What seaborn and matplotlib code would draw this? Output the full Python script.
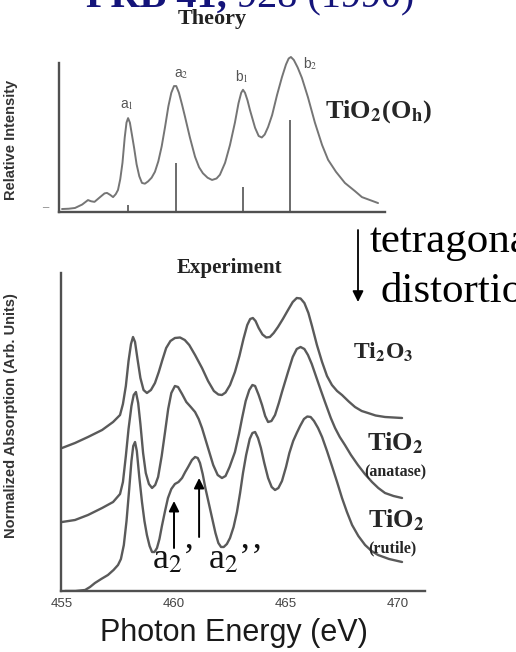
import numpy as np
import pandas as pd
import matplotlib
matplotlib.use("Agg")
import matplotlib.pyplot as plt
from matplotlib.ticker import MultipleLocator
import seaborn as sns

# ---------------- data ----------------
# Calculated Ti L-edge spectrum for octahedral TiO2 (relative intensity)
theory_energy = [455.00, 455.30, 455.58, 455.90, 456.16, 456.30, 456.45, 456.70,
                 456.90, 457.01, 457.15, 457.28, 457.40, 457.50, 457.60, 457.70,
                 457.80, 457.88, 457.95, 458.03, 458.12, 458.22, 458.33, 458.45,
                 458.57, 458.70, 458.84, 459.00, 459.15, 459.30, 459.45, 459.60,
                 459.75, 459.88, 460.00, 460.10, 460.22, 460.36, 460.49, 460.71,
                 460.94, 461.12, 461.29, 461.50, 461.70, 461.90, 462.05, 462.28,
                 462.50, 462.72, 462.88, 463.00, 463.08, 463.17, 463.28, 463.39,
                 463.62, 463.78, 463.92, 464.05, 464.20, 464.38, 464.60, 464.82,
                 465.00, 465.12, 465.22, 465.35, 465.52, 465.71, 465.98, 466.29,
                 466.61, 466.88, 467.23, 467.63, 468.08, 468.39, 468.75, 469.11]
theory_intensity = [0.020, 0.022, 0.027, 0.050, 0.080, 0.072, 0.068, 0.100,
                    0.125, 0.128, 0.115, 0.100, 0.120, 0.148, 0.220, 0.330,
                    0.500, 0.600, 0.630, 0.600, 0.520, 0.430, 0.320, 0.240,
                    0.195, 0.190, 0.205, 0.230, 0.270, 0.340, 0.440, 0.570,
                    0.710, 0.800, 0.845, 0.845, 0.800, 0.720, 0.640, 0.500,
                    0.370, 0.300, 0.260, 0.230, 0.215, 0.225, 0.250, 0.330,
                    0.450, 0.600, 0.730, 0.800, 0.820, 0.800, 0.750, 0.685,
                    0.565, 0.510, 0.500, 0.520, 0.570, 0.650, 0.785, 0.905,
                    0.990, 1.030, 1.040, 1.020, 0.970, 0.900, 0.770, 0.600,
                    0.450, 0.350, 0.270, 0.195, 0.140, 0.100, 0.080, 0.060]

# Multiplet line positions and strengths
stick_energy = [457.95, 460.09, 463.08, 465.18]
stick_height = [0.05, 0.33, 0.17, 0.62]
stick_labels = ["a$_1$", "a$_2$", "b$_1$", "b$_2$"]

# Measured spectra (normalized absorption, vertically offset)
ti2o3_energy = [455.00, 455.58, 456.16, 456.79, 457.28, 457.59, 457.72, 457.85,
                457.97, 458.08, 458.17, 458.26, 458.37, 458.50, 458.64, 458.79,
                458.97, 459.15, 459.32, 459.48, 459.65, 459.84, 460.04, 460.27,
                460.48, 460.68, 460.94, 461.25, 461.52, 461.78, 461.98, 462.14,
                462.30, 462.50, 462.72, 462.92, 463.10, 463.27, 463.40, 463.52,
                463.64, 463.78, 463.95, 464.12, 464.28, 464.45, 464.64, 464.86,
                465.09, 465.30, 465.48, 465.65, 465.82, 466.00, 466.16, 466.38,
                466.61, 466.83, 467.05, 467.28, 467.50, 467.80, 468.08, 468.38,
                468.66, 469.00, 469.42, 470.18]
ti2o3_abs = [1.43, 1.48, 1.54, 1.61, 1.69, 1.76, 1.87, 2.05,
             2.30, 2.47, 2.54, 2.49, 2.32, 2.13, 2.01, 1.98,
             2.01, 2.08, 2.19, 2.31, 2.43, 2.50, 2.53, 2.535,
             2.51, 2.46, 2.36, 2.23, 2.10, 2.00, 1.965, 1.96,
             1.985, 2.06, 2.19, 2.35, 2.52, 2.66, 2.72, 2.73,
             2.70, 2.63, 2.565, 2.535, 2.54, 2.58, 2.64, 2.72,
             2.81, 2.89, 2.93, 2.925, 2.88, 2.78, 2.65, 2.46,
             2.29, 2.15, 2.06, 2.00, 1.96, 1.895, 1.84, 1.80,
             1.78, 1.755, 1.74, 1.73]

anatase_energy = [455.00, 455.58, 456.16, 456.79, 457.28, 457.59, 457.72, 457.85,
                  457.97, 458.10, 458.20, 458.30, 458.40, 458.50, 458.62, 458.74,
                  458.88, 459.02, 459.16, 459.29, 459.45, 459.60, 459.74, 459.88,
                  460.04, 460.18, 460.36, 460.55, 460.75, 460.94, 461.10, 461.25,
                  461.52, 461.75, 461.95, 462.14, 462.30, 462.48, 462.72, 462.90,
                  463.04, 463.20, 463.36, 463.50, 463.62, 463.78, 463.93, 464.07,
                  464.20, 464.35, 464.51, 464.68, 464.82, 465.09, 465.30, 465.48,
                  465.65, 465.82, 465.98, 466.15, 466.35, 466.55, 466.74, 467.00,
                  467.19, 467.40, 467.63, 467.90, 468.21, 468.52, 468.84, 469.12,
                  469.42, 469.80, 470.18]
anatase_abs = [0.69, 0.71, 0.76, 0.83, 0.89, 0.97, 1.09, 1.35,
               1.62, 1.85, 1.96, 1.99, 1.88, 1.67, 1.38, 1.18,
               1.07, 1.03, 1.06, 1.14, 1.35, 1.59, 1.82, 1.98,
               2.05, 2.04, 1.97, 1.89, 1.84, 1.79, 1.72, 1.63,
               1.43, 1.26, 1.16, 1.13, 1.15, 1.24, 1.39, 1.57,
               1.73, 1.90, 2.01, 2.06, 2.05, 1.96, 1.86, 1.75,
               1.69, 1.70, 1.76, 1.88, 1.99, 2.19, 2.34, 2.42,
               2.44, 2.42, 2.36, 2.27, 2.14, 2.01, 1.89, 1.73,
               1.63, 1.54, 1.46, 1.36, 1.26, 1.17, 1.09, 1.03,
               0.98, 0.95, 0.93]

rutile_energy = [455.13, 455.60, 456.03, 456.25, 456.47, 456.75, 457.05, 457.30,
                 457.50, 457.63, 457.76, 457.88, 458.00, 458.10, 458.18, 458.26,
                 458.34, 458.45, 458.57, 458.68, 458.79, 458.91, 459.02, 459.13,
                 459.24, 459.35, 459.46, 459.60, 459.73, 459.88, 460.04, 460.20,
                 460.36, 460.50, 460.63, 460.80, 460.94, 461.06, 461.16, 461.28,
                 461.40, 461.55, 461.70, 461.85, 461.98, 462.10, 462.22, 462.36,
                 462.50, 462.66, 462.81, 462.95, 463.08, 463.22, 463.38, 463.50,
                 463.62, 463.75, 463.88, 464.03, 464.20, 464.36, 464.51, 464.66,
                 464.82, 465.00, 465.15, 465.32, 465.48, 465.63, 465.80, 465.95,
                 466.10, 466.25, 466.43, 466.61, 466.83, 467.05, 467.28, 467.50,
                 467.72, 467.95, 468.23, 468.53, 468.82, 469.11, 469.60, 470.18]
rutile_abs = [0.00, 0.00, 0.01, 0.04, 0.08, 0.12, 0.16, 0.21,
              0.26, 0.32, 0.46, 0.70, 1.02, 1.30, 1.45, 1.49,
              1.40, 1.14, 0.89, 0.70, 0.56, 0.45, 0.39, 0.39,
              0.43, 0.52, 0.65, 0.80, 0.93, 1.02, 1.07, 1.09,
              1.13, 1.19, 1.24, 1.31, 1.34, 1.33, 1.28, 1.17,
              1.03, 0.88, 0.73, 0.58, 0.48, 0.44, 0.44, 0.47,
              0.53, 0.64, 0.79, 0.98, 1.18, 1.36, 1.52, 1.58,
              1.59, 1.53, 1.43, 1.28, 1.13, 1.04, 1.01, 1.03,
              1.10, 1.24, 1.38, 1.50, 1.58, 1.65, 1.72, 1.745,
              1.74, 1.70, 1.63, 1.54, 1.40, 1.25, 1.09, 0.93,
              0.79, 0.66, 0.55, 0.46, 0.40, 0.36, 0.32, 0.29]

# Baselines of the offset spectra (marked on the y axis)
baseline_values = [0.69, 1.43]

# Rutile a2 sub-bands, marked by arrows: (energy, arrow tail, arrow tip)
split_energy = [460.0, 461.12]
split_tail = [0.43, 0.54]
split_tip = [0.90, 1.13]
split_labels = ["a$_2$\u2019", "a$_2$\u2019\u2019"]
split_label_level = 0.23

energy_ticks = [455, 460, 465, 470]

# ---------------- layout helpers ----------------
W, H = 516, 652


def fx(px):
    return px / W


def fy(py):
    return 1 - py / H


sns.set_style("white")
plt.rcParams["font.family"] = ["Liberation Serif", "DejaVu Serif"]
plt.rcParams["mathtext.fontset"] = "stix"

AX_COL = "#505050"
LINE_COL = "#5a5a5a"
NAVY = "#14147a"

fig = plt.figure(figsize=(W / 100, H / 100), dpi=100)
fig.patch.set_facecolor("white")

ax_t = fig.add_axes([fx(59), fy(212), fx(385) - fx(59), (212 - 50) / H])
ax_e = fig.add_axes([fx(61), fy(591), fx(425) - fx(61), (591 - 273) / H])
for ax in (ax_t, ax_e):
    ax.patch.set_alpha(0)
    ax.spines["top"].set_visible(False)
    ax.spines["right"].set_visible(False)
    for s in ("left", "bottom"):
        ax.spines[s].set_color(AX_COL)
        ax.spines[s].set_linewidth(1.7)

# ---------------- theory panel ----------------
sns.lineplot(x=theory_energy, y=theory_intensity, ax=ax_t, color="#757575",
             lw=1.4, estimator=None, sort=False)
ax_t.vlines(stick_energy, 0, stick_height, color="#606060", lw=1.3)
ax_t.set_xlim(454.866, 469.42)
ax_t.set_ylim(0, 1.087)
ax_t.spines["left"].set_bounds(0, 1.0)
ax_t.set_xticks([])
ax_t.set_yticks([0.04, 1.0])
ax_t.set_yticklabels(["\u2013", ""], color="#666666", fontsize=9)
ax_t.tick_params(axis="y", direction="in", length=5, width=1.5,
                 color=AX_COL, pad=8)
ax_t.yaxis.get_major_ticks()[0].tick1line.set_visible(False)
ax_t.set_xlabel("")
ax_t.set_ylabel("Relative Intensity", family="Liberation Sans",
                fontweight="bold", fontsize=10.5, color="#333333")
ax_t.yaxis.set_label_coords(fx(18), fy(140), transform=fig.transFigure)

label_offsets = [(-1, 13), (5, 12), (-1, 13), (20, -6)]
for e, lab, off in zip(stick_energy, stick_labels, label_offsets):
    peak = np.interp(e, theory_energy, theory_intensity)
    ax_t.annotate(lab, xy=(e, peak), xytext=(off[0] * 0.72, off[1] * 0.72),
                  textcoords="offset points", ha="center", va="center",
                  fontsize=10, color="#555555", family="Liberation Sans")

fig.text(fx(379), fy(112), r"TiO$_\mathbf{2}$(O$_\mathbf{h}$)",
         ha="center", va="center", fontsize=19, fontweight="bold")
fig.text(fx(212), fy(19), "Theory", ha="center", va="center",
         fontsize=16, fontweight="bold", color="#222222")

# ---------------- experiment panel ----------------
spectra = pd.concat([
    pd.DataFrame({"energy": ti2o3_energy, "absorption": ti2o3_abs,
                  "sample": "Ti2O3"}),
    pd.DataFrame({"energy": anatase_energy, "absorption": anatase_abs,
                  "sample": "anatase"}),
    pd.DataFrame({"energy": rutile_energy, "absorption": rutile_abs,
                  "sample": "rutile"}),
])
sns.lineplot(data=spectra, x="energy", y="absorption", hue="sample",
             units="sample", estimator=None, sort=False,
             palette=[LINE_COL] * 3, lw=1.7, legend=False, ax=ax_e)

ax_e.set_xlim(454.955, 471.205)
ax_e.set_ylim(0, 3.18)
ax_e.set_xticks(energy_ticks)
ax_e.xaxis.set_minor_locator(MultipleLocator(1))
ax_e.tick_params(axis="x", which="both", direction="in", length=5, width=1.1,
                 color=AX_COL, labelsize=9.5, labelcolor="#444444", pad=5)
for t in ax_e.get_xticklabels():
    t.set_family("Liberation Sans")
ax_e.set_yticks(baseline_values)
ax_e.set_yticklabels([])
ax_e.tick_params(axis="y", direction="in", length=7, width=1.1, color=AX_COL)

ax_e.set_xlabel("Photon Energy (eV)", family="Liberation Sans", fontsize=22,
                color="#1a1a1a", va="center")
ax_e.xaxis.set_label_coords(fx(234), fy(633), transform=fig.transFigure)
ax_e.set_ylabel("Normalized Absorption (Arb. Units)", family="Liberation Sans",
                fontweight="bold", fontsize=10.5, color="#333333")
ax_e.yaxis.set_label_coords(fx(18), fy(416), transform=fig.transFigure)

label_shift = [-22, 9]
for e, tail, tip, lab, dx in zip(split_energy, split_tail, split_tip,
                                 split_labels, label_shift):
    ax_e.annotate("", xy=(e, tip), xytext=(e, tail),
                  arrowprops=dict(arrowstyle="-|>", color="black", lw=1.4,
                                  mutation_scale=15, shrinkA=0, shrinkB=0))
    ax_e.annotate(lab, xy=(e, split_label_level), xytext=(dx * 0.72, 0),
                  textcoords="offset points", ha="left", va="baseline",
                  fontsize=26, color="#111111")

fig.text(fx(383), fy(352), r"Ti$_\mathbf{2}$O$_\mathbf{3}$", ha="center",
         va="center", fontsize=17, fontweight="bold")
fig.text(fx(395), fy(443), r"TiO$_\mathbf{2}$", ha="center", va="center",
         fontsize=19, fontweight="bold")
fig.text(fx(395), fy(472), "(anatase)", ha="center", va="center",
         fontsize=11.5, fontweight="bold")
fig.text(fx(396), fy(520), r"TiO$_\mathbf{2}$", ha="center", va="center",
         fontsize=19, fontweight="bold")
fig.text(fx(392), fy(548), "(rutile)", ha="center", va="center",
         fontsize=11.5, fontweight="bold")
fig.text(fx(229), fy(268), "Experiment", ha="center", va="center",
         fontsize=15, fontweight="bold", color="#222222")

# ---------------- distortion arrow and heading ----------------
ax_e.annotate("", xy=(fx(358), fy(302)), xytext=(fx(358), fy(230)),
              xycoords="figure fraction", textcoords="figure fraction",
              arrowprops=dict(arrowstyle="-|>", color="black", lw=1.3,
                              mutation_scale=16, shrinkA=0, shrinkB=0))
fig.text(fx(370), fy(252), "tetragonal", ha="left", va="baseline",
         fontsize=31, color="black")
fig.text(fx(381), fy(302), "distortion", ha="left", va="baseline",
         fontsize=31, color="black")

fig.text(fx(227), fy(7), "PRB 41,", ha="right", va="baseline",
         fontsize=29, fontweight="bold", color=NAVY)
fig.text(fx(227), fy(7), " 928 (1990)", ha="left", va="baseline",
         fontsize=29, color=NAVY)

fig.savefig("out.png", dpi=100)
